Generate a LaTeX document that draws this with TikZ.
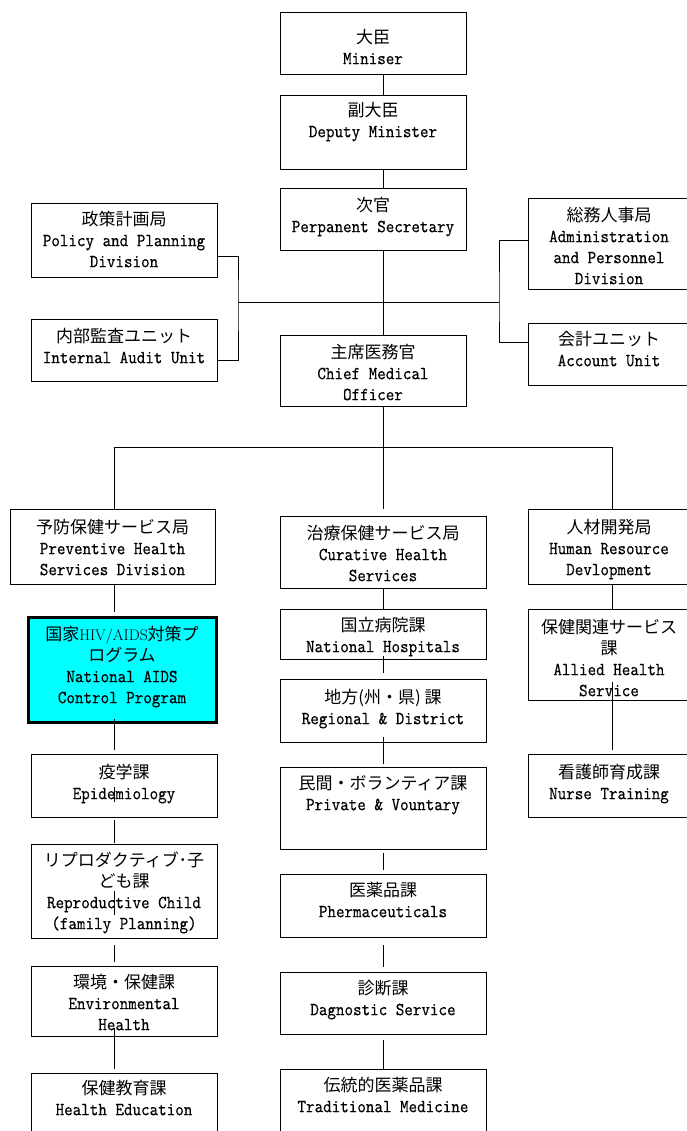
\documentclass[tikz,border=0pt]{standalone}
\usepackage{fontspec}
\newfontfamily\jpf{Noto Sans CJK JP}
\newfontfamily\latf[FakeStretch=0.88,FakeBold=0.3]{lmmono10-regular.otf}
\usetikzlibrary{fit,calc}
\definecolor{aqua}{RGB}{0,255,255}
\newcommand\J[1]{{\fontsize{17}{21}\selectfont\jpf #1}}
\newcommand\btext[3]{\node[txt] (#1-t) at (#1.north |- 0,#2) {\rule{0pt}{15pt}#3};}
\begin{document}
\begin{tikzpicture}[x=1pt,y=-1pt,
  box/.style={draw, line width=0.9pt, inner sep=0pt, fill=white},
  hiv/.style={box, fill=aqua, line width=3pt},
  txt/.style={anchor=north, align=center, inner sep=0pt, font=\fontsize{18.5}{21}\selectfont\latf},
  conn/.style={line width=0.8pt}]
\useasboundingbox[fill=white] (0,0) rectangle (686,1131);
% boxes
\node[box, fit={(280,12) (466,74)}] (min) {};
\node[box, fit={(280,95) (466,169)}] (dep) {};
\node[box, fit={(280,188) (466,250)}] (per) {};
\node[box, fit={(31,203) (217,277)}] (pol) {};
\node[box, fit={(31,319) (217,381)}] (aud) {};
\node[box, fit={(528,198) (690,289)}] (adm) {};
\node[box, fit={(528,323) (690,385)}] (acc) {};
\node[box, fit={(280,335) (466,406)}] (cmo) {};
\node[box, fit={(10,509) (215,584)}] (pre) {};
\node[box, fit={(280,516) (486,588)}] (cur) {};
\node[box, fit={(528,509) (690,584)}] (hr) {};
\node[hiv, fit={(28,617) (216,722)}] (nacp) {};
\node[box, fit={(280,609) (486,659)}] (nh) {};
\node[box, fit={(528,609) (690,700)}] (al) {};
\node[box, fit={(280,679) (486,742)}] (reg) {};
\node[box, fit={(31,754) (217,817)}] (epi) {};
\node[box, fit={(280,767) (486,849)}] (pri) {};
\node[box, fit={(528,754) (690,817)}] (nu) {};
\node[box, fit={(31,844) (217,938)}] (rep) {};
\node[box, fit={(280,874) (486,937)}] (pha) {};
\node[box, fit={(31,966) (217,1036)}] (env) {};
\node[box, fit={(280,972) (486,1034)}] (dia) {};
\node[box, fit={(31,1073) (217,1140)}] (he) {};
\node[box, fit={(280,1069) (486,1140)}] (tra) {};
% texts
\btext{min}{28}{\J{大臣}\\Miniser}
\btext{dep}{101}{\J{副大臣}\\Deputy Minister}
\btext{per}{196}{\J{次官}\\Perpanent Secretary}
\btext{pol}{210}{\J{政策計画局}\\Policy and Planning\\Division}
\btext{aud}{327}{\J{内部監査ユニット}\\Internal Audit Unit}
\btext{adm}{206}{\J{総務人事局}\\Administration\\and Personnel\\Division}
\btext{acc}{330}{\J{会計ユニット}\\Account Unit}
\btext{cmo}{343}{\J{主席医務官}\\Chief Medical\\Officer}
\btext{pre}{518}{\J{予防保健サービス局}\\Preventive Health\\Services Division}
\btext{cur}{524}{\J{治療保健サービス局}\\Curative Health\\Services}
\btext{hr}{518}{\J{人材開発局}\\Human Resource\\Devlopment}
\btext{nacp}{625}{\J{国家}{\fontsize{15.5}{21}\selectfont\rmfamily HIV/AIDS}\J{対策プ}\\\J{ログラム}\\National AIDS\\Control Program}
\btext{nh}{616}{\J{国立病院課}\\National Hospitals}
\btext{al}{618}{\J{保健関連サービス}\\\J{課}\\Allied Health\\Service}
\btext{reg}{688}{\J{地方(州・県) 課}\\Regional \& District}
\btext{epi}{763}{\J{疫学課}\\Epidemiology}
\btext{pri}{774}{\J{民間・ボランティア課}\\Private \& Vountary}
\btext{nu}{763}{\J{看護師育成課}\\Nurse Training}
\btext{rep}{851}{\J{リプロダクティブ･子}\\\J{ども課}\\Reproductive Child\\(family Planning)}
\btext{pha}{881}{\J{医薬品課}\\Phermaceuticals}
\btext{env}{973}{\J{環境・保健課}\\Environmental\\Health}
\btext{dia}{979}{\J{診断課}\\Dagnostic Service}
\btext{he}{1079}{\J{保健教育課}\\Health Education}
\btext{tra}{1076}{\J{伝統的医薬品課}\\Traditional Medicine}
% column coordinates
\coordinate (cL) at (114,0);
\coordinate (cC) at (383,0);
\coordinate (cR) at (612,0);
\coordinate (jl) at (238,302);
\coordinate (jr) at (499,302);
\coordinate (jc) at (383,447);
% top chain
\draw[conn] (min.south -| cC) -- (dep.north -| cC);
\draw[conn] (dep.south -| cC) -- (per.north -| cC);
\draw[conn] (per.south -| cC) -- (cmo.north -| cC);
\draw[conn] (jl) -- (jr);
\draw[conn] ($(pol.south east)+(0,-21)$) -| (jl) |- ($(aud.south east)+(0,-21)$);
\draw[conn] ($(adm.north west)+(0,43)$) -| (jr) |- ($(acc.north west)+(0,20)$);
% division bar
\draw[conn] (cmo.south -| cC) -- (jc);
\draw[conn] (pre.north -| cL) -- (cL |- jc) -- (cR |- jc) -- (hr.north -| cR);
\draw[conn] (jc) -- ($(cur.north -| cC)+(0,-7)$);
% left column
\draw[conn] (pre.south -| cL) -- ($(nacp.north -| cL)+(0,-4)$);
\draw[conn] ($(nacp.south -| cL)+(0,-5)$) -- ($(epi.north -| cL)+(0,-4)$);
\draw[conn] ($(epi.north -| cL)+(0,33)$) -- ($(epi.north -| cL)+(0,48)$);
\draw[conn] ($(epi.south -| cL)+(0,3)$) -- ($(rep.north -| cL)+(0,-1)$);
\draw[conn] ($(rep.north -| cL)+(0,47)$) -- ($(rep.north -| cL)+(0,71)$);
\draw[conn] ($(rep.south -| cL)+(0,7)$) -- ($(env.north -| cL)+(0,-4)$);
\draw[conn] ($(env.south -| cL)+(0,-8)$) -- ($(he.north -| cL)+(0,-4)$);
% centre column
\draw[conn] (cur.south -| cC) -- (nh.north -| cC);
\draw[conn] ($(nh.south -| cC)+(0,-3)$) -- ($(reg.north -| cC)+(0,-6)$);
\draw[conn] ($(reg.south -| cC)+(0,-5)$) -- ($(pri.north -| cC)+(0,-3)$);
\draw[conn] ($(pri.south -| cC)+(0,4)$) -- ($(pha.north -| cC)+(0,-4)$);
\draw[conn] ($(pha.south -| cC)+(0,8)$) -- ($(dia.north -| cC)+(0,-5)$);
\draw[conn] ($(dia.south -| cC)+(0,6)$) -- ($(tra.north -| cC)+(0,1)$);
% right column
\draw[conn] (hr.south -| cR) -- (al.north -| cR);
\draw[conn] ($(al.south -| cR)+(0,-18)$) -- ($(nu.north -| cR)+(0,-4)$);
\end{tikzpicture}
\end{document}
